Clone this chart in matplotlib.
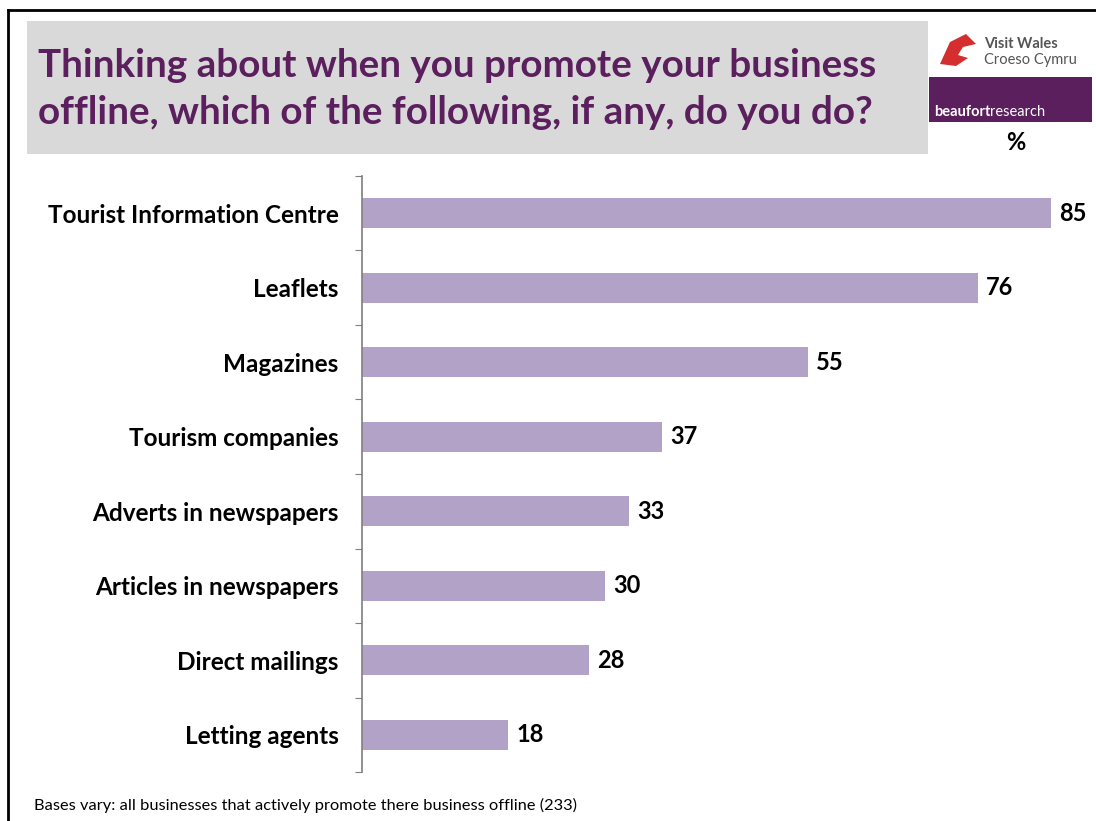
import matplotlib
matplotlib.use("Agg")
import matplotlib.pyplot as plt
from matplotlib.patches import Rectangle, Polygon
from matplotlib.lines import Line2D
from matplotlib.text import Annotation

plt.rcParams['font.family'] = ['Lato', 'DejaVu Sans']

# Survey answers, top to bottom
categories = ['Tourist Information Centre', 'Leaflets', 'Magazines', 'Tourism companies',
              'Adverts in newspapers', 'Articles in newspapers', 'Direct mailings', 'Letting agents']
percent = [85, 76, 55, 37, 33, 30, 28, 18]

title = 'Thinking about when you promote your business\noffline, which of the following, if any, do you do?'
footnote = 'Bases vary: all businesses that actively promote there business offline (233)'

W, H = 1096, 821
fig = plt.figure(figsize=(W / 100, H / 100), dpi=100)

def fx(px):
    return px / W

def fy(py):
    return 1 - py / H

# slide frame (left and top edges only)
fig.add_artist(Line2D([fx(8), fx(8)], [fy(10), 0], color='black', lw=2, transform=fig.transFigure))
fig.add_artist(Line2D([fx(8), fx(1095)], [fy(10), fy(10)], color='black', lw=2, transform=fig.transFigure))

# grey title panel
fig.add_artist(Rectangle((fx(27), fy(154)), fx(928 - 27), (154 - 21) / H,
                         transform=fig.transFigure, facecolor='#d9d9d9', edgecolor='none'))
fig.text(fx(38), fy(89), title, color='#5b1f5e', fontsize=27.8, fontweight='bold',
         va='center', ha='left', linespacing=1.4)

# bar chart
ax = fig.add_axes([fx(362), fy(772), fx(1092 - 362), (772 - 176) / H])
y = list(range(len(categories)))
ax.barh(y, percent, height=0.4, color='#b3a2c7')
ax.set_ylim(len(categories) - 0.5, -0.5)
ax.set_xlim(0, (1092 - 362) / ((1051 - 362) / 85))

for yi, v in zip(y, percent):
    ax.text(v + 1.0, yi, str(v), va='center', ha='left', fontsize=17, fontweight='bold')

ax.set_yticks([i - 0.5 for i in range(len(categories) + 1)], minor=False)
ax.set_yticklabels([])
ax.set_yticks(y, minor=True)
ax.set_yticklabels(categories, minor=True, fontsize=17.5, fontweight='bold')
ax.tick_params(axis='y', which='major', length=5, color='#7f7f7f', direction='out')
ax.tick_params(axis='y', which='minor', length=0, pad=17)
ax.set_xticks([])
for s in ['top', 'right', 'bottom']:
    ax.spines[s].set_visible(False)
ax.spines['left'].set_color('#7f7f7f')
ax.spines['left'].set_linewidth(1.2)
ax.patch.set_alpha(0)

# logos
fig.add_artist(Polygon([(fx(940), fy(64)), (fx(950), fy(42)), (fx(966), fy(34)), (fx(976), fy(44)),
                        (fx(963), fy(47)), (fx(958), fy(55)), (fx(968), fy(58)), (fx(956), fy(66))],
                       closed=True, transform=fig.transFigure, facecolor='#d42e2e', edgecolor='none'))
fig.text(fx(984), fy(44), 'Visit Wales', fontsize=10.5, fontweight='bold', color='#555555', va='center')
fig.text(fx(984), fy(60), 'Croeso Cymru', fontsize=10.5, color='#555555', va='center')
fig.add_artist(Rectangle((fx(929), fy(122)), fx(1092 - 929), (122 - 77) / H,
                         transform=fig.transFigure, facecolor='#5b1f5e', edgecolor='none'))
brand = fig.text(fx(934), fy(112), 'beaufort', fontsize=10.5, fontweight='bold', color='white',
                 va='center', zorder=3)
fig.add_artist(Annotation('research', xy=(1, 0.5), xycoords=brand, fontsize=10.5, color='white',
                          va='center', ha='left', annotation_clip=False, zorder=3))
fig.text(fx(1016), fy(142), '%', fontsize=17, fontweight='bold', color='black', ha='center', va='center')

fig.text(fx(34), fy(805), footnote, fontsize=11.8, va='center', ha='left')

fig.savefig('out.png', dpi=100)
